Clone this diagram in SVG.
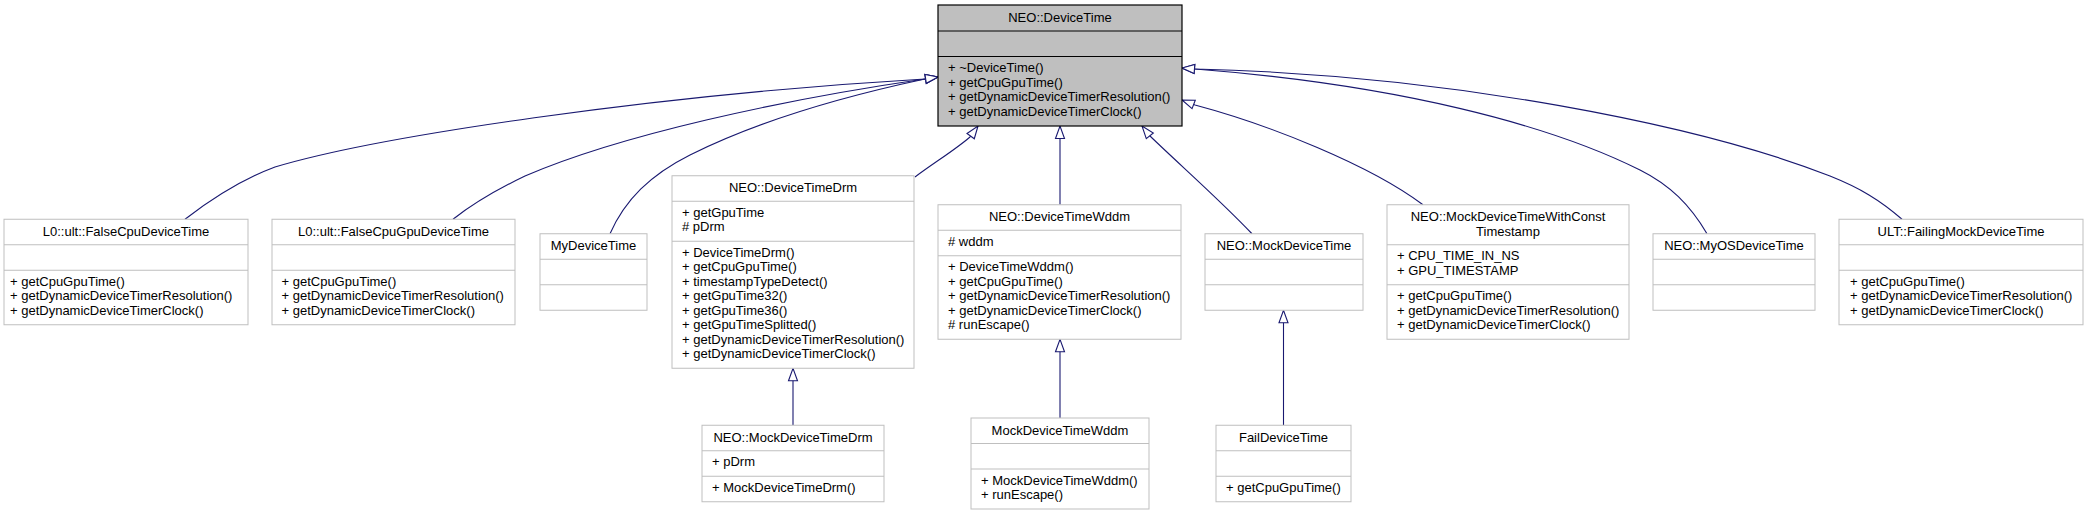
<svg xmlns="http://www.w3.org/2000/svg" width="2088" height="515" viewBox="0 0 2088 515">
<style>
text{font-family:"Liberation Sans",Arial,Helvetica,sans-serif;font-size:13px;fill:#000}
.c{text-anchor:middle}
.n rect{fill:#fff;stroke:#bfbfbf;stroke-width:1}
.n line{stroke:#bfbfbf;stroke-width:1}
.m rect{fill:#bfbfbf;stroke:#000;stroke-width:1.2}
.m line{stroke:#000;stroke-width:1}
.e path{fill:none;stroke:#191970;stroke-width:1.1;marker-end:url(#a)}
</style>
<defs>
<marker id="a" markerUnits="userSpaceOnUse" viewBox="0 -5 14 10" markerWidth="14" markerHeight="10" refX="13" refY="0" orient="auto" overflow="visible"><path d="M0.5,-4.5L13,0L0.5,4.5Z" fill="#fff" stroke="#191970" stroke-width="1.1"/></marker>
</defs>
<rect x="0" y="0" width="2088" height="515" fill="#fff"/>
<g id="edges" class="e">
<path d="M185,219.25 C210,200 240,180 275,167 C375,137 650,95 925,79 L938,77"/>
<path d="M453,219.25 C475,202 500,188 525,176 C620,135 780,100 925,79 L938,77"/>
<path d="M610,233.75 C625,200 650,175 690,155 C760,120 850,95 925,79 L938,77"/>
<path d="M915,177 C935,162 955,150 970,137 L978,126"/>
<path d="M1060,204.75 L1060,126"/>
<path d="M1252,233.75 C1220,200 1180,165 1150,136 L1142,126"/>
<path d="M1423,204.75 C1370,165 1270,125 1195,105 L1182,100"/>
<path d="M1707,233.75 C1690,205 1670,185 1640,170 C1550,125 1400,85 1195,69 L1182,68"/>
<path d="M1902,219.25 C1880,200 1860,188 1830,176 C1700,125 1450,75 1195,69 L1182,68"/>
<path d="M793,425.25 L793,368.25"/>
<path d="M1060,418 L1060,339.25"/>
<path d="M1283.5,425.25 L1283.5,310.25"/>
</g>
<g id="DeviceTime" class="m">
<rect x="938" y="5" width="244" height="121"/>
<line x1="938" y1="31" x2="1182" y2="31"/><line x1="938" y1="56.5" x2="1182" y2="56.5"/>
<text class="c" x="1060" y="21.5">NEO::DeviceTime</text>
<text x="948" y="72">+ ~DeviceTime()</text>
<text x="948" y="86.5">+ getCpuGpuTime()</text>
<text x="948" y="101">+ getDynamicDeviceTimerResolution()</text>
<text x="948" y="115.5">+ getDynamicDeviceTimerClock()</text>
</g>
<g id="FalseCpuDeviceTime" class="n">
<rect x="4" y="219.25" width="244" height="105.5"/>
<line x1="4" y1="244.75" x2="248" y2="244.75"/><line x1="4" y1="270.25" x2="248" y2="270.25"/>
<text class="c" x="126" y="235.75">L0::ult::FalseCpuDeviceTime</text>
<text x="10" y="285.75">+ getCpuGpuTime()</text>
<text x="10" y="300.25">+ getDynamicDeviceTimerResolution()</text>
<text x="10" y="314.75">+ getDynamicDeviceTimerClock()</text>
</g>
<g id="FalseCpuGpuDeviceTime" class="n">
<rect x="272" y="219.25" width="243" height="105.5"/>
<line x1="272" y1="244.75" x2="515" y2="244.75"/><line x1="272" y1="270.25" x2="515" y2="270.25"/>
<text class="c" x="393.5" y="235.75">L0::ult::FalseCpuGpuDeviceTime</text>
<text x="281.5" y="285.75">+ getCpuGpuTime()</text>
<text x="281.5" y="300.25">+ getDynamicDeviceTimerResolution()</text>
<text x="281.5" y="314.75">+ getDynamicDeviceTimerClock()</text>
</g>
<g id="MyDeviceTime" class="n">
<rect x="540" y="233.75" width="107" height="76.5"/>
<line x1="540" y1="259.25" x2="647" y2="259.25"/><line x1="540" y1="284.75" x2="647" y2="284.75"/>
<text class="c" x="593.5" y="250.25">MyDeviceTime</text>
</g>
<g id="DeviceTimeDrm" class="n">
<rect x="672" y="175.75" width="242" height="192.5"/>
<line x1="672" y1="201.25" x2="914" y2="201.25"/><line x1="672" y1="241.25" x2="914" y2="241.25"/>
<text class="c" x="793" y="192.25">NEO::DeviceTimeDrm</text>
<text x="682" y="216.75">+ getGpuTime</text>
<text x="682" y="231.25"># pDrm</text>
<text x="682" y="256.75">+ DeviceTimeDrm()</text>
<text x="682" y="271.25">+ getCpuGpuTime()</text>
<text x="682" y="285.75">+ timestampTypeDetect()</text>
<text x="682" y="300.25">+ getGpuTime32()</text>
<text x="682" y="314.75">+ getGpuTime36()</text>
<text x="682" y="329.25">+ getGpuTimeSplitted()</text>
<text x="682" y="343.75">+ getDynamicDeviceTimerResolution()</text>
<text x="682" y="358.25">+ getDynamicDeviceTimerClock()</text>
</g>
<g id="DeviceTimeWddm" class="n">
<rect x="938" y="204.75" width="243" height="134.5"/>
<line x1="938" y1="230.25" x2="1181" y2="230.25"/><line x1="938" y1="255.75" x2="1181" y2="255.75"/>
<text class="c" x="1059.5" y="221.25">NEO::DeviceTimeWddm</text>
<text x="948" y="245.75"># wddm</text>
<text x="948" y="271.25">+ DeviceTimeWddm()</text>
<text x="948" y="285.75">+ getCpuGpuTime()</text>
<text x="948" y="300.25">+ getDynamicDeviceTimerResolution()</text>
<text x="948" y="314.75">+ getDynamicDeviceTimerClock()</text>
<text x="948" y="329.25"># runEscape()</text>
</g>
<g id="MockDeviceTime" class="n">
<rect x="1205" y="233.75" width="158" height="76.5"/>
<line x1="1205" y1="259.25" x2="1363" y2="259.25"/><line x1="1205" y1="284.75" x2="1363" y2="284.75"/>
<text class="c" x="1284" y="250.25">NEO::MockDeviceTime</text>
</g>
<g id="MockDeviceTimeWithConstTimestamp" class="n">
<rect x="1387" y="204.75" width="242" height="134.5"/>
<line x1="1387" y1="244.75" x2="1629" y2="244.75"/><line x1="1387" y1="284.75" x2="1629" y2="284.75"/>
<text class="c" x="1508" y="221.25">NEO::MockDeviceTimeWithConst</text>
<text class="c" x="1508" y="235.75">Timestamp</text>
<text x="1397" y="260.25">+ CPU_TIME_IN_NS</text>
<text x="1397" y="274.75">+ GPU_TIMESTAMP</text>
<text x="1397" y="300.25">+ getCpuGpuTime()</text>
<text x="1397" y="314.75">+ getDynamicDeviceTimerResolution()</text>
<text x="1397" y="329.25">+ getDynamicDeviceTimerClock()</text>
</g>
<g id="MyOSDeviceTime" class="n">
<rect x="1653" y="233.75" width="162" height="76.5"/>
<line x1="1653" y1="259.25" x2="1815" y2="259.25"/><line x1="1653" y1="284.75" x2="1815" y2="284.75"/>
<text class="c" x="1734" y="250.25">NEO::MyOSDeviceTime</text>
</g>
<g id="FailingMockDeviceTime" class="n">
<rect x="1839" y="219.25" width="244" height="105.5"/>
<line x1="1839" y1="244.75" x2="2083" y2="244.75"/><line x1="1839" y1="270.25" x2="2083" y2="270.25"/>
<text class="c" x="1961" y="235.75">ULT::FailingMockDeviceTime</text>
<text x="1850" y="285.75">+ getCpuGpuTime()</text>
<text x="1850" y="300.25">+ getDynamicDeviceTimerResolution()</text>
<text x="1850" y="314.75">+ getDynamicDeviceTimerClock()</text>
</g>
<g id="MockDeviceTimeDrm" class="n">
<rect x="702" y="425.25" width="182" height="76.5"/>
<line x1="702" y1="450.75" x2="884" y2="450.75"/><line x1="702" y1="476.25" x2="884" y2="476.25"/>
<text class="c" x="793" y="441.75">NEO::MockDeviceTimeDrm</text>
<text x="712" y="466.25">+ pDrm</text>
<text x="712" y="491.75">+ MockDeviceTimeDrm()</text>
</g>
<g id="MockDeviceTimeWddm" class="n">
<rect x="971" y="418" width="178" height="91"/>
<line x1="971" y1="443.5" x2="1149" y2="443.5"/><line x1="971" y1="469" x2="1149" y2="469"/>
<text class="c" x="1060" y="434.5">MockDeviceTimeWddm</text>
<text x="981" y="484.5">+ MockDeviceTimeWddm()</text>
<text x="981" y="499">+ runEscape()</text>
</g>
<g id="FailDeviceTime" class="n">
<rect x="1216" y="425.25" width="135" height="76.5"/>
<line x1="1216" y1="450.75" x2="1351" y2="450.75"/><line x1="1216" y1="476.25" x2="1351" y2="476.25"/>
<text class="c" x="1283.5" y="441.75">FailDeviceTime</text>
<text x="1226" y="491.75">+ getCpuGpuTime()</text>
</g>
</svg>
